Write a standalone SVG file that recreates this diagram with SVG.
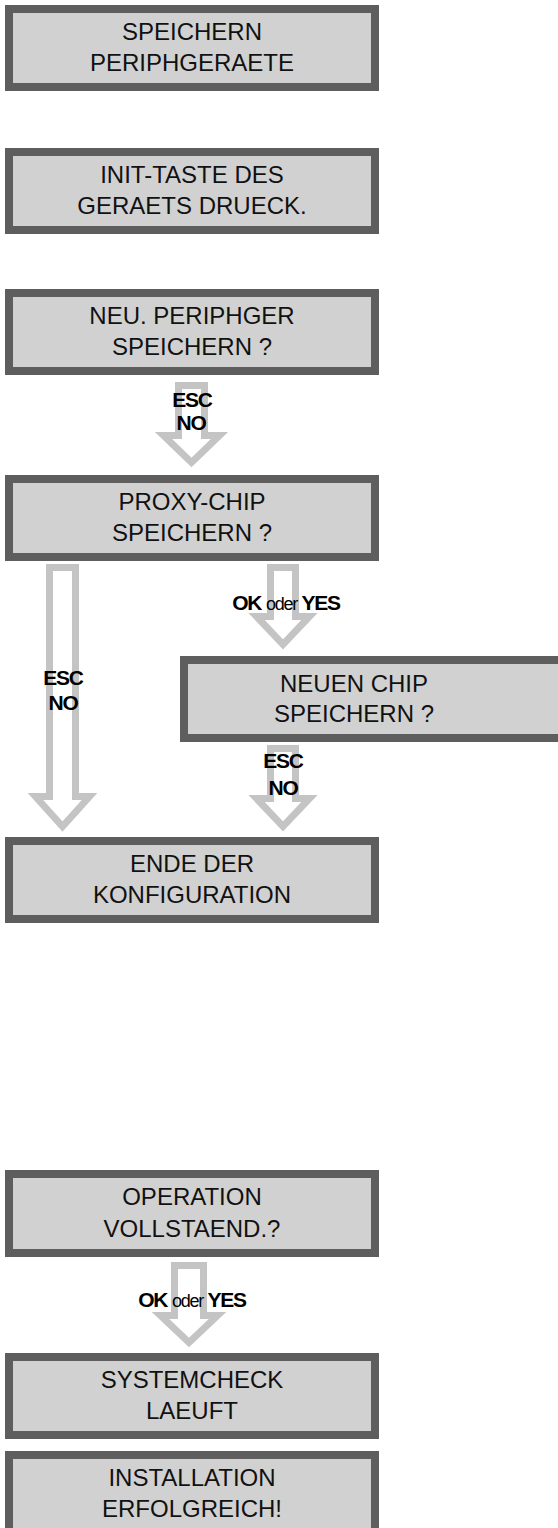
<svg xmlns="http://www.w3.org/2000/svg" width="558" height="1528" viewBox="0 0 558 1528">
<style>
.box{fill:#d1d1d1;stroke:#5e5e5e;stroke-width:8}
.t{font-family:"Liberation Sans",Arial,sans-serif;font-size:24px;fill:#111;text-anchor:middle}
.arr{fill:none;stroke:#c4c4c4;stroke-width:7;stroke-linejoin:miter;stroke-miterlimit:10}
.lb{font-family:"Liberation Sans",Arial,sans-serif;font-size:21px;font-weight:bold;fill:#000;text-anchor:middle;letter-spacing:-1.2px}
.od{font-weight:normal;font-size:18px}
</style>
<rect width="558" height="1528" fill="#fff"/>
<g id="connectors">
  <path class="arr" d="M178.5,385.5 H204.5 V435.5 H219.5 L191.5,462.5 L163.5,435.5 H178.5 Z"/>
  <path class="arr" d="M49.5,567.5 H75.5 V796.5 H89.5 L62.5,826.5 L35.5,796.5 H49.5 Z"/>
  <path class="arr" d="M270.5,567.5 H295.5 V616.5 H309.5 L283,644.5 L256.5,616.5 H270.5 Z"/>
  <path class="arr" d="M270.5,748.5 H295.5 V798.5 H309.5 L283,826.5 L256.5,798.5 H270.5 Z"/>
  <path class="arr" d="M174.5,1265.5 H203.5 V1315.5 H217.5 L189,1342.5 L160.5,1315.5 H174.5 Z"/>
  <text class="lb" x="192" y="407">ESC</text>
  <text class="lb" x="191" y="430">NO</text>
  <text class="lb" x="63" y="685">ESC</text>
  <text class="lb" x="63" y="710">NO</text>
  <text class="lb" x="286" y="610">OK <tspan class="od">oder</tspan> YES</text>
  <text class="lb" x="283" y="768">ESC</text>
  <text class="lb" x="283" y="795">NO</text>
  <text class="lb" x="192" y="1307">OK <tspan class="od">oder</tspan> YES</text>
</g>
<g id="n1"><rect class="box" x="9" y="9" width="366" height="78"/><text class="t" x="192" y="40">SPEICHERN</text><text class="t" x="192" y="71">PERIPHGERAETE</text></g>
<g id="n2"><rect class="box" x="9" y="152" width="366" height="78"/><text class="t" x="192" y="183">INIT-TASTE DES</text><text class="t" x="192" y="214">GERAETS DRUECK.</text></g>
<g id="n3"><rect class="box" x="9" y="293" width="366" height="78"/><text class="t" x="192" y="324">NEU. PERIPHGER</text><text class="t" x="192" y="355">SPEICHERN ?</text></g>
<g id="n4"><rect class="box" x="9" y="479" width="366" height="78"/><text class="t" x="192" y="510">PROXY-CHIP</text><text class="t" x="192" y="541">SPEICHERN ?</text></g>
<g id="n5"><rect class="box" x="184" y="660" width="380" height="78"/><text class="t" x="354" y="692">NEUEN CHIP</text><text class="t" x="354" y="722">SPEICHERN ?</text></g>
<g id="n6"><rect class="box" x="9" y="841" width="366" height="78"/><text class="t" x="192" y="872">ENDE DER</text><text class="t" x="192" y="903">KONFIGURATION</text></g>
<g id="n7"><rect class="box" x="9" y="1174" width="366" height="79"/><text class="t" x="192" y="1205">OPERATION</text><text class="t" x="192" y="1237">VOLLSTAEND.?</text></g>
<g id="n8"><rect class="box" x="9" y="1357" width="366" height="78"/><text class="t" x="192" y="1388">SYSTEMCHECK</text><text class="t" x="192" y="1419">LAEUFT</text></g>
<g id="n9"><rect class="box" x="9" y="1455" width="366" height="78"/><text class="t" x="192" y="1486">INSTALLATION</text><text class="t" x="192" y="1517">ERFOLGREICH!</text></g>
</svg>
